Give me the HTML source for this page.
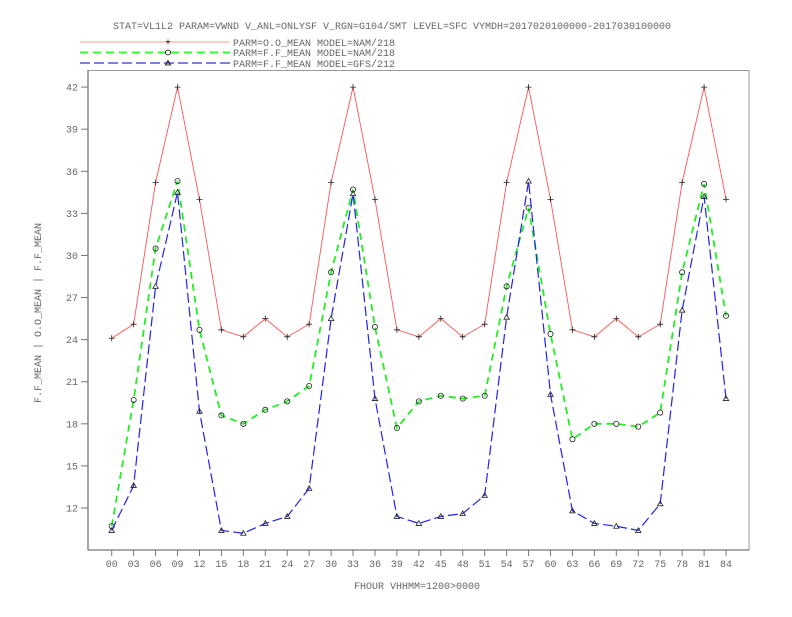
<!DOCTYPE html>
<html><head><meta charset="utf-8"><style>
body{margin:0;background:#fff;}
svg text{font-family:"Liberation Mono",monospace;fill:#666;font-size:10px;}
</style></head><body>
<svg id="chart" width="792" height="612" xmlns="http://www.w3.org/2000/svg">
<text x="392" y="29" text-anchor="middle">STAT=VL1L2 PARAM=VWND V_ANL=ONLYSF V_RGN=G104/SMT LEVEL=SFC VYMDH=2017020100000-2017030100000</text>
<g>
<g><line x1="80" y1="42" x2="230" y2="42" stroke="#f99" stroke-width="1"/><text x="168" y="45.5" text-anchor="middle" style="fill:#000">+</text><text x="233" y="46">PARM=O.O_MEAN MODEL=NAM/218</text></g>
<g><line x1="80" y1="52.5" x2="230" y2="52.5" stroke="#3f3" stroke-width="2" stroke-dasharray="8,5"/><circle cx="168" cy="52.5" r="2.5" fill="none" stroke="#000" stroke-width="0.8"/><text x="233" y="56">PARM=F.F_MEAN MODEL=NAM/218</text></g>
<g><line x1="80" y1="63" x2="230" y2="63" stroke="#33d" stroke-width="1.2" stroke-dasharray="10,4"/><path d="M165.5 65 L168 60.5 L170.5 65 Z" fill="none" stroke="#000" stroke-width="0.8"/><text x="233" y="67">PARM=F.F_MEAN MODEL=GFS/212</text></g>
</g>
<rect x="88" y="70.5" width="661" height="479.5" fill="none" stroke="#999" stroke-width="1"/>
<line x1="88" y1="70" x2="88" y2="550" stroke="#777" stroke-width="1.3"/>
<line x1="88" y1="550" x2="749" y2="550" stroke="#777" stroke-width="1.3"/>
<g id="yaxis"></g>
<g id="xaxis"></g>
<g id="series"></g>
<text transform="translate(41,313) rotate(-90)" text-anchor="middle">F.F_MEAN | O.O_MEAN | F.F_MEAN</text>
<text x="417" y="589" text-anchor="middle">FHOUR VHHMM=1200&gt;0000</text>
</svg>
<script>
const categories=["00","03","06","09","12","15","18","21","24","27","30","33","36","39","42","45","48","51","54","57","60","63","66","69","72","75","78","81","84"];
const yTicks=[12,15,18,21,24,27,30,33,36,39,42];
const obsNam=[24.1,25.1,35.2,42,34,24.7,24.2,25.5,24.2,25.1,35.2,42,34,24.7,24.2,25.5,24.2,25.1,35.2,42,34,24.7,24.2,25.5,24.2,25.1,35.2,42,34];
const fcstNam=[10.7,19.7,30.5,35.3,24.7,18.6,18.0,19.0,19.6,20.7,28.8,34.7,24.9,17.7,19.6,20.0,19.8,20.0,27.8,33.4,24.4,16.9,18.0,18.0,17.8,18.8,28.8,35.1,25.7];
const fcstGfs=[10.4,13.6,27.8,34.5,18.9,10.4,10.2,10.9,11.4,13.4,25.5,34.4,19.8,11.4,10.9,11.4,11.6,12.9,25.6,35.3,20.1,11.8,10.9,10.7,10.4,12.3,26.1,34.2,19.8];
const NS="http://www.w3.org/2000/svg";
function xPos(i){return 111.7+i*21.94;}
function yPos(v){return 508-(v-12)*14.03;}
function mk(tag,attrs,parent){const e=document.createElementNS(NS,tag);for(const k in attrs)e.setAttribute(k,attrs[k]);parent.appendChild(e);return e;}
const ya=document.getElementById('yaxis');
yTicks.forEach(v=>{
  const y=yPos(v);
  const t=mk('line',{x1:81,y1:y,x2:88,y2:y,stroke:'#777'},ya);
  
  
  const l=mk('text',{x:78,y:y+3.5,'text-anchor':'end'},ya);
  
  
  l.textContent=String(v);
});
const xa=document.getElementById('xaxis');
categories.forEach((c,i)=>{
  const x=xPos(i);
  const t=mk('line',{x1:x,y1:550,x2:x,y2:556,stroke:'#777'},xa);
  
  
  const l=mk('text',{x:x,y:567,'text-anchor':'middle'},xa);
  
  
  l.textContent=c;
});
const sg=document.getElementById('series');
function drawSeries(vals,name,color,width,dash,marker){
  const g=mk('g',{},sg);
  
  
  const pts=vals.map((v,i)=>xPos(i)+','+yPos(v)).join(' ');
  const pl=mk('polyline',{points:pts,fill:'none',stroke:color,'stroke-width':width},g);
  if(dash)pl.setAttribute('stroke-dasharray',dash);
  
  
  vals.forEach((v,i)=>{
    const x=xPos(i),y=yPos(v);let m;
    if(marker==='plus')m=mk('path',{d:`M${x-3} ${y}H${x+3}M${x} ${y-3}V${y+3}`,stroke:'#222','stroke-width':0.8},g);
    else if(marker==='circle')m=mk('circle',{cx:x,cy:y,r:2.6,fill:'none',stroke:'#222','stroke-width':0.8},g);
    else m=mk('path',{d:`M${x-2.7} ${y+2} L${x} ${y-2.7} L${x+2.7} ${y+2} Z`,fill:'none',stroke:'#222','stroke-width':0.8},g);
    
    
  });
}
drawSeries(obsNam,'series-obs-nam','#f55',0.9,null,'plus');
drawSeries(fcstNam,'series-fcst-nam','#2e2',1.8,'7,5','circle');
drawSeries(fcstGfs,'series-fcst-gfs','#22e',1.2,'10,4','tri');
</script>
</body></html>
